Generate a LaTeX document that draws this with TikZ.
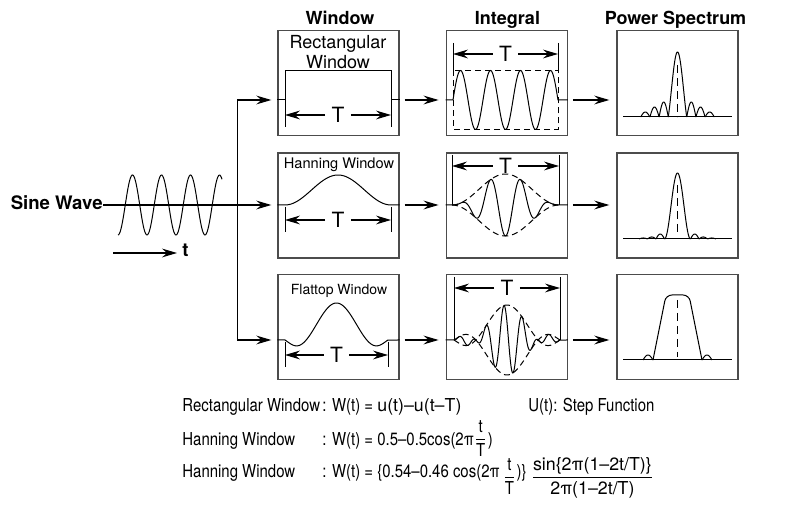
\documentclass[tikz,border=0pt]{standalone}
\usepackage{amsmath}
\usepackage{fontspec}
\setmainfont{TeX Gyre Heros}
\newfontfamily\narrowfont[FakeStretch=0.84]{TeX Gyre Heros}
\usetikzlibrary{
    arrows.meta,
    positioning
}
\newcommand{\stackfrac}[3][-2pt]{\raisebox{#1}{$\dfrac{\text{#2}}{\text{#3}}$}}

\begin{document}
\begin{tikzpicture}[
    x=0.5pt, y=-0.5pt,
    font=\fontsize{9}{10.5}\selectfont,
    panel/.style={
        rectangle,
        draw=black!70,
        line width=0.7pt,
        minimum width=60.5pt,
        minimum height=52.5pt,
        inner sep=0pt
    },
    colhead/.style={
        font=\bfseries\fontsize{9}{10}\selectfont,
        anchor=base,
        inner sep=0pt
    },
    boxtitle/.style={
        align=center,
        inner sep=0pt
    },
    wave/.style={line width=0.5pt},
    envelope/.style={line width=0.5pt, dash pattern=on 3pt off 2pt},
    midline/.style={line width=0.5pt, dash pattern=on 4pt off 2.5pt},
    dimtick/.style={line width=0.5pt},
    arrow/.style={
        -{Stealth[length=7.5pt,width=4.4pt,inset=2.6pt]},
        line width=0.55pt
    },
    arrowgap/.style={shorten <=2.5pt, shorten >=3.5pt},
    tlabel/.style={
        font=\fontsize{10.5}{12}\selectfont,
        inner sep=3pt
    },
    eqtext/.style={
        font=\narrowfont\fontsize{8.9}{10.5}\selectfont,
        anchor=base west,
        inner sep=0pt
    }
]
\useasboundingbox (0,0) rectangle (805,506);

% =========================================================
% Column heads and panels
% =========================================================
\node[colhead] (hwin) at (340,25) {Window};
\node[colhead] (hint) at (507.5,25) {Integral};
\node[colhead] (hspec) at (675.5,25) {Power Spectrum};

\foreach \r/\y in {1/83, 2/205.5, 3/327} {
    \node[panel] (win\r) at (338.5,\y) {};
    \node[panel] (int\r) at (506.75,\y) {};
    \node[panel] (spec\r) at (677.5,\y) {};
}

\coordinate (lvl1) at (0,100);
\coordinate (lvl2) at (0,205);
\coordinate (lvl3) at (0,340);
\coordinate (split) at (237,205);

% =========================================================
% Input signal and splitter
% =========================================================
\node[font=\bfseries\fontsize{9.3}{11}\selectfont, anchor=base east, inner sep=0pt] (sine) at (103,209.5) {Sine Wave};
\draw[wave] plot[domain=118:222, samples=150] (\x,{205+30*cos((\x-118)/29*360)});

\coordinate (tstart) at (113,253);
\node[font=\bfseries\fontsize{9.3}{11}\selectfont, anchor=base west, inner sep=2.5pt] (tvar) at (177,257) {t};
\draw[arrow] (tstart) -- (tvar.west |- tstart);

\draw[arrow, shorten >=3pt] (sine.east |- lvl2) -- (win2.west |- lvl2);
\draw[wave] (split |- lvl1) -- (split |- lvl3);
\draw[arrow, shorten >=3pt] (split |- lvl1) -- (win1.west |- lvl1);
\draw[arrow, shorten >=3pt] (split |- lvl3) -- (win3.west |- lvl3);

% =========================================================
% Windows
% =========================================================
\node[boxtitle, font=\fontsize{9}{10}\selectfont] (trect) at (338,52) {Rectangular\\Window};
\node[boxtitle, font=\fontsize{7.3}{9}\selectfont, anchor=base] (thann) at (339,169) {Hanning Window};
\node[boxtitle, font=\fontsize{7}{9}\selectfont, anchor=base] (tflat) at (339,295) {Flattop Window};

\draw[wave] (win1.west |- lvl1) -- (285,100) -- (285,71) -- (391,71) -- (391,100) -- (win1.east |- lvl1);

\draw[wave] (win2.west |- lvl2) -- (285,205)
    -- plot[domain=285:391, samples=60] (\x,{205-30*(0.5-0.5*cos((\x-285)/106*360))})
    -- (win2.east |- lvl2);

\draw[wave] (win3.west |- lvl3) -- (285,340)
    -- plot[domain=-1:1, samples=100, variable=\v] ({336.5+51.5*\v},{340-37*sin(306*\v)/(5.34*\v)*(1-(\v*\v)^3)})
    -- (win3.east |- lvl3);

% =========================================================
% Integrals
% =========================================================
\draw[wave] (int1.west |- lvl1) -- (453,100)
    -- plot[domain=453:558, samples=200] (\x,{100-29.5*sin((\x-453)/30*360)})
    -- (int1.east |- lvl1);
\draw[envelope] (453,70.5) rectangle (558,129.5);

\draw[wave] (int2.west |- lvl2) -- (452,205)
    -- plot[domain=452:559, samples=200] (\x,{205+31*(0.5-0.5*cos((\x-452)/107*360))*cos((\x-505.5)/30*360)})
    -- (int2.east |- lvl2);
\draw[envelope] plot[domain=452:559, samples=60] (\x,{205-31*(0.5-0.5*cos((\x-452)/107*360))});
\draw[envelope] plot[domain=452:559, samples=60] (\x,{205+31*(0.5-0.5*cos((\x-452)/107*360))});

\draw[wave] (int3.west |- lvl3) -- (454,340)
    -- plot[domain=-1:1, samples=300, variable=\v] ({507+53*\v},{340-35*sin(306*\v)/(5.34*\v)*(1-(\v*\v)^3)*cos((53*\v+3)/18*360)})
    -- (int3.east |- lvl3);
\draw[envelope] plot[domain=-1:1, samples=100, variable=\v] ({507+53*\v},{340-35*sin(306*\v)/(5.34*\v)*(1-(\v*\v)^3)});
\draw[envelope] plot[domain=-1:1, samples=100, variable=\v] ({507+53*\v},{340+35*sin(306*\v)/(5.34*\v)*(1-(\v*\v)^3)});

% T spans
\foreach \n/\xa/\xb/\ya/\yb/\yt in {w1/285/391/100/127/115, w2/285/391/207/232/220, w3/285/388/342/367/355,
                                    i1/453/558/43/71/54, i2/452/559/155/205/166, i3/454/560/277/340/288} {
    \draw[dimtick] (\xa,\ya) -- (\xa,\yb) (\xb,\ya) -- (\xb,\yb);
    \coordinate (T\n a) at (\xa,\yt);
    \coordinate (T\n b) at (\xb,\yt);
    \node[tlabel] (T\n) at ({(\xa+\xb)/2},\yt) {T};
    \draw[arrow] (T\n) -- (T\n a);
    \draw[arrow] (T\n) -- (T\n b);
}

% =========================================================
% Power spectra
% =========================================================
\draw[wave] (623,117) -- (732,117);
\draw[wave] plot[domain=-1:1, samples=60, variable=\u] ({677.5+9.2*\u},{117-65*sin(180*\u)/(pi*\u)});
\foreach \k/\h in {1/15, 2/10, 3/5} {
    \draw[wave] plot[domain=0:1, samples=20, variable=\s] ({677.5+9.2*(\k+\s)},{117-\h*sin(180*\s)});
    \draw[wave] plot[domain=0:1, samples=20, variable=\s] ({677.5-9.2*(\k+\s)},{117-\h*sin(180*\s)});
}
\draw[midline] (677.5,65) -- (677.5,117);

\draw[wave] (623,239) -- (732,239);
\draw[wave] plot[domain=-2:2, samples=60, variable=\u] ({677.5+6.5*\u},{239-66*cos(45*\u)^2});
\foreach \k/\h in {0/5, 1/2, 2/1} {
    \draw[wave] plot[domain=0:1, samples=20, variable=\s] ({677.5+13+8.5*(\k+\s)},{239-\h*sin(180*\s)});
    \draw[wave] plot[domain=0:1, samples=20, variable=\s] ({677.5-13-8.5*(\k+\s)},{239-\h*sin(180*\s)});
}
\draw[midline] (677.5,185) -- (677.5,236);

\draw[wave] (623,360) -- (732,360);
\draw[wave, rounded corners=3pt] (653,360) -- (666,295) -- (689,295) -- (702,360);
\draw[wave] plot[domain=0:1, samples=20, variable=\s] ({643+10*\s},{360-5*sin(180*\s)});
\draw[wave] plot[domain=0:1, samples=20, variable=\s] ({702+10*\s},{360-5*sin(180*\s)});
\draw[midline] (677.5,300) -- (677.5,357);

% =========================================================
% Chain arrows
% =========================================================
\foreach \r in {1,2,3} {
    \draw[arrow, arrowgap] (win\r.east |- lvl\r) -- (int\r.west |- lvl\r);
    \draw[arrow, arrowgap] (int\r.east |- lvl\r) -- (spec\r.west |- lvl\r);
}

% =========================================================
% Window functions
% =========================================================
\node[eqtext] (lrect) at (182,412) {Rectangular Window};
\node[eqtext] (frect) at (322,412) {: W(t) = {\rmfamily u(t)–u(t–T)}};
\node[eqtext] (fstep) at (528,412) {U(t): Step Function};

\node[eqtext] (lhann) at (182,446) {Hanning Window};
\node[eqtext] (fhann) at (322,446) {: W(t) = 0.5–0.5cos(2π\stackfrac[1pt]{t}{T})};

\node[eqtext] (lflat) at (182,478) {Hanning Window};
\node[eqtext] (fflat) at (322,478) {: W(t) = \{0.54–0.46 cos(2π\,\stackfrac{t}{T})\} \stackfrac{\rmfamily sin\{2π(1–2t/T)\}}{\rmfamily 2π(1–2t/T)}};

\end{tikzpicture}
\end{document}
